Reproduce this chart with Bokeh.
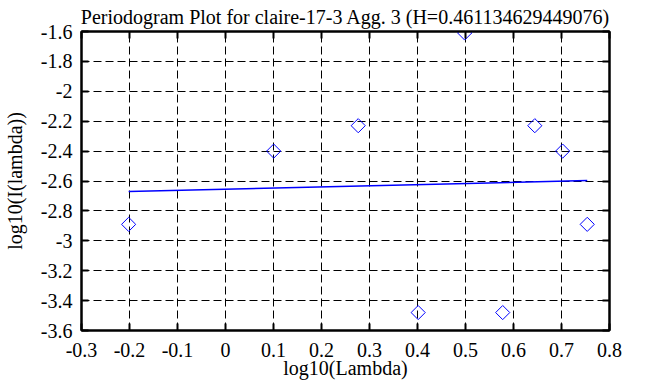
from bokeh.plotting import figure
from bokeh.models import Range1d, FixedTicker, LinearAxis
from bokeh.embed import file_html
from bokeh.resources import INLINE

# ---- data ----
log_lambda = [-0.2018, 0.1004, 0.2765, 0.4014, 0.4983, 0.5775, 0.6444, 0.7024, 0.7536]
log_I = [-2.89, -2.40, -2.23, -3.48, -1.61, -3.48, -2.23, -2.40, -2.89]
fit_x = [-0.2018, 0.7536]
fit_y = [-2.670, -2.597]

x_ticks = [-0.3, -0.2, -0.1, 0.0, 0.1, 0.2, 0.3, 0.4, 0.5, 0.6, 0.7, 0.8]
x_labels = ["-0.3", "-0.2", "-0.1", "0", "0.1", "0.2", "0.3", "0.4", "0.5", "0.6", "0.7", "0.8"]
y_ticks = [-3.6, -3.4, -3.2, -3.0, -2.8, -2.6, -2.4, -2.2, -2.0, -1.8, -1.6]
y_labels = ["-3.6", "-3.4", "-3.2", "-3", "-2.8", "-2.6", "-2.4", "-2.2", "-2", "-1.8", "-1.6"]

title_text = "Periodogram Plot for claire-17-3 Agg. 3 (H=0.461134629449076)"
x_title = "log10(Lambda)"
y_title = "log10(I(lambda))"

FONT = "Liberation Serif"
FS = "20px"

p = figure(frame_width=528, frame_height=299,
           x_range=Range1d(-0.3, 0.8), y_range=Range1d(-3.6, -1.6),
           output_backend="svg", toolbar_location=None,
           min_border_left=74, min_border_right=40, min_border_top=24, min_border_bottom=48,
           background_fill_color="white", border_fill_color="white")

p.title.text = title_text
p.title.align = "center"
p.title.text_font = FONT
p.title.text_font_size = FS
p.title.text_font_style = "normal"
p.title.text_color = "black"
p.title.standoff = 7
p.title.offset = 0

p.outline_line_color = "black"
p.outline_line_width = 2

xt = FixedTicker(ticks=x_ticks)
yt = FixedTicker(ticks=y_ticks)

def style_axis(ax, ticker):
    ax.ticker = ticker
    ax.axis_line_color = "black"
    ax.axis_line_width = 2
    ax.major_tick_line_color = "black"
    ax.major_tick_line_width = 2
    ax.major_tick_in = 7
    ax.major_tick_out = 0
    ax.minor_tick_line_color = None
    ax.major_label_text_font = FONT
    ax.major_label_text_font_size = FS
    ax.major_label_text_color = "black"
    ax.axis_label_text_font = FONT
    ax.axis_label_text_font_size = FS
    ax.axis_label_text_font_style = "normal"
    ax.axis_label_text_color = "black"

bx = p.below[0]
ly = p.left[0]
style_axis(bx, xt)
style_axis(ly, yt)
bx.major_label_overrides = dict(zip(x_ticks, x_labels))
ly.major_label_overrides = dict(zip(y_ticks, y_labels))
bx.axis_label = x_title
ly.axis_label = y_title
bx.major_label_standoff = 12
bx.axis_label_standoff = -3
ly.major_label_standoff = 9
ly.axis_label_standoff = 12

top = LinearAxis()
style_axis(top, xt)
top.major_label_overrides = dict(zip(x_ticks, [""] * len(x_ticks)))
top.major_label_text_color = None
top.major_label_standoff = 0
p.add_layout(top, "above")

right = LinearAxis()
style_axis(right, yt)
right.major_label_overrides = dict(zip(y_ticks, [""] * len(y_ticks)))
right.major_label_text_color = None
right.major_label_standoff = 0
p.add_layout(right, "right")

p.xgrid.ticker = xt
p.ygrid.ticker = yt
for g in (p.xgrid, p.ygrid):
    g.grid_line_color = "black"
    g.grid_line_width = 1
    g.grid_line_dash = "8 4"
    g.grid_line_alpha = 1.0

p.line(fit_x, fit_y, line_color="#0000ff", line_width=1.5)
p.scatter(log_lambda, log_I, marker="square", size=10, angle=0.785398,
          fill_color=None, line_color="#0000ff", line_width=1)

open("out.html", "w").write(file_html(p, INLINE))
